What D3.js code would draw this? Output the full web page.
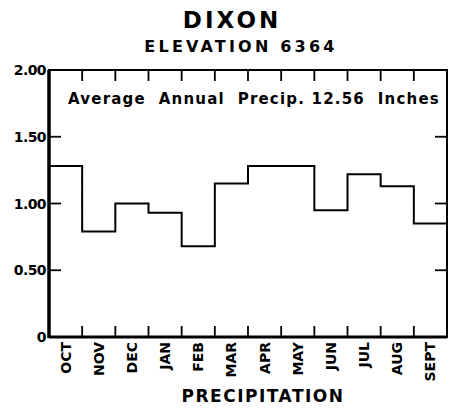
<!DOCTYPE html>
<html>
<head>
<meta charset="utf-8">
<script src="https://cdn.jsdelivr.net/npm/d3@7"></script>
<style>
  body { margin: 0; background: #fff; }
  text { font-family: "DejaVu Sans", sans-serif; fill: #000; }
</style>
</head>
<body>
<svg id="chart" width="452" height="411"></svg>
<script>
// monthly precipitation, inches (water year order)
var months = ["OCT", "NOV", "DEC", "JAN", "FEB", "MAR", "APR", "MAY", "JUN", "JUL", "AUG", "SEPT"];
var precip = [1.28, 0.79, 1.00, 0.93, 0.68, 1.15, 1.28, 1.28, 0.95, 1.22, 1.13, 0.85];
var yTicks = [0, 0.5, 1.0, 1.5, 2.0];
var yLabels = ["0", "0.50", "1.00", "1.50", "2.00"];

var svg = d3.select("#chart"),
	pLeft = 49, pRight = 447, pTop = 70, pBottom = 337;

var x = d3.scaleLinear().domain([0, months.length]).range([pLeft, pRight]);
var y = d3.scaleLinear().domain([0, 2]).range([pBottom, pTop]);

// titles
svg.append("text").attr("x", 232).attr("y", 28).attr("text-anchor", "middle")
	.style("font-size", "23px").style("font-weight", "bold").style("letter-spacing", "3px")
	.text("DIXON");
svg.append("text").attr("x", 241).attr("y", 52).attr("text-anchor", "middle")
	.style("font-size", "16px").style("font-weight", "bold").style("letter-spacing", "3.2px")
	.text("ELEVATION 6364");

// step line
var steps = [];
precip.forEach(function(v, i) { steps.push([i, v]); steps.push([i + 1, v]); });
var line = d3.line().x(function(d) { return x(d[0]); }).y(function(d) { return y(d[1]); });
svg.append("path").attr("d", line(steps))
	.attr("fill", "none").attr("stroke", "#000").attr("stroke-width", 2);

// inward month ticks top and bottom
var bounds = d3.range(1, months.length);
svg.selectAll(".tb").data(bounds).enter().append("line")
	.attr("x1", x).attr("x2", x).attr("y1", pBottom).attr("y2", pBottom - 11)
	.attr("stroke", "#000").attr("stroke-width", 1.8);
svg.selectAll(".tt").data(bounds).enter().append("line")
	.attr("x1", x).attr("x2", x).attr("y1", pTop).attr("y2", pTop + 11)
	.attr("stroke", "#000").attr("stroke-width", 1.8);

// value ticks left and right
var inner = yTicks.slice(1, 4);
svg.selectAll(".tl").data(inner).enter().append("line")
	.attr("x1", pLeft).attr("x2", pLeft + 12).attr("y1", y).attr("y2", y)
	.attr("stroke", "#000").attr("stroke-width", 1.8);
svg.selectAll(".tr").data(inner).enter().append("line")
	.attr("x1", pRight - 12).attr("x2", pRight).attr("y1", y).attr("y2", y)
	.attr("stroke", "#000").attr("stroke-width", 1.8);

// frame
svg.append("rect").attr("x", pLeft).attr("y", pTop).attr("width", pRight - pLeft).attr("height", pBottom - pTop)
	.attr("fill", "none").attr("stroke", "#000").attr("stroke-width", 2);
svg.append("line").attr("x1", pLeft).attr("x2", pLeft).attr("y1", pTop).attr("y2", pBottom + 1)
	.attr("stroke", "#000").attr("stroke-width", 3.5);
svg.append("line").attr("x1", pLeft).attr("x2", pRight).attr("y1", pBottom).attr("y2", pBottom)
	.attr("stroke", "#000").attr("stroke-width", 3);

// y labels
svg.selectAll(".yl").data(yTicks).enter().append("text")
	.attr("x", function(d) { return d === 0 ? pLeft - 3 : pLeft - 3; })
	.attr("y", function(d) { return y(d) + 5; })
	.attr("text-anchor", "end")
	.style("font-size", "14px").style("font-weight", "bold").style("letter-spacing", "-0.6px")
	.text(function(d, i) { return yLabels[i]; });

// month labels, rotated
svg.selectAll(".ml").data(months).enter().append("text")
	.attr("transform", function(d, i) { return "translate(" + (x(i + 0.5) + 5) + "," + (pBottom + 5) + ") rotate(-90)"; })
	.attr("text-anchor", "end")
	.style("font-size", "14px").style("font-weight", "bold")
	.text(function(d) { return d; });

// annual note inside plot
svg.append("text").attr("x", 254).attr("y", 104).attr("text-anchor", "middle")
	.style("font-size", "15px").style("font-weight", "bold").style("letter-spacing", "1.2px").attr("xml:space", "preserve")
	.text("Average  Annual  Precip. 12.56  Inches");

svg.append("text").attr("x", 263).attr("y", 402).attr("text-anchor", "middle")
	.style("font-size", "17px").style("font-weight", "bold").style("letter-spacing", "1.5px")
	.text("PRECIPITATION");
</script>
</body>
</html>
